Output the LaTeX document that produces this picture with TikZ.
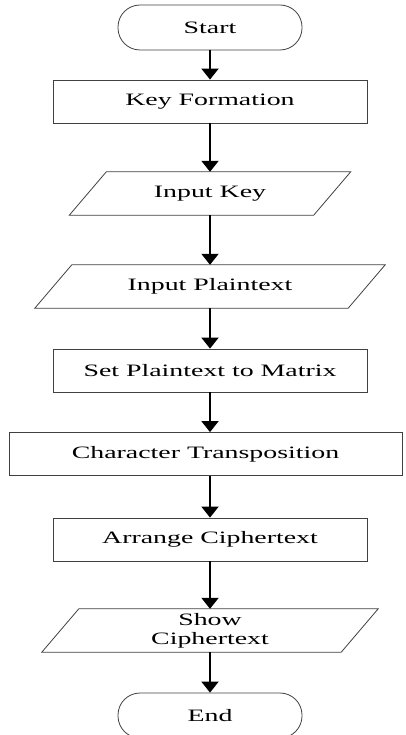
\documentclass[tikz,border=0pt]{standalone}
\usepackage{fontspec}
\setmainfont{Liberation Serif}
\newfontfamily\chartfont[FakeStretch=1.6]{Liberation Serif}
\usetikzlibrary{arrows.meta}
\colorlet{boxbrd}{black!75}

\begin{document}
\begin{tikzpicture}[
  x=1pt, y=-1pt,
  every node/.style={font=\chartfont\fontsize{17.4}{19}\selectfont, align=center},
  term/.style ={draw=boxbrd, line width=0.8pt, rounded corners=22pt,
                minimum width=184pt, minimum height=45pt, inner sep=0pt},
  proc/.style ={draw=boxbrd, line width=0.8pt,
                minimum width=314pt, minimum height=43pt, inner sep=0pt},
  io/.style   ={minimum height=43pt, inner sep=0pt,
                append after command={\pgfextra{
                  \draw[boxbrd, line width=0.8pt]
                    ([xshift=18.5pt]\tikzlastnode.north west) -- ([xshift=18.5pt]\tikzlastnode.north east)
                 -- ([xshift=-18.5pt]\tikzlastnode.south east) -- ([xshift=-18.5pt]\tikzlastnode.south west)
                 -- cycle;}}},
  flow/.style ={-{Triangle[width=17pt,length=11pt]}, line width=2pt},
]
\useasboundingbox (0,0) rectangle (406,735);

%% ── Flow chart column (x = 210) ─────────────────────────
\node[term] (start)   at (210, 27.5)  {Start};
\node[proc] (keyform) at (210, 101.5) {Key Formation};
\node[io, minimum width=244pt] (inkey)   at (210, 193.5) {Input Key};
\node[io, minimum width=313pt] (inplain) at (210, 286.5) {Input Plaintext};
\node[proc] (setmat)  at (210, 370.5) {Set Plaintext to Matrix};
\node[proc, minimum width=393pt] (transp) at (205.5, 454) {Character Transposition};
\node[proc] (arrange) at (210, 539.5) {Arrange Ciphertext};
\node[io, minimum width=299pt] (showcip) at (210, 630.5) {Show\\Ciphertext};
\node[term] (finish)  at (210, 715.5) {End};

%% ── Connectors ──────────────────────────────────────────
\draw[flow] (start)   -- (keyform);
\draw[flow] (keyform) -- (inkey);
\draw[flow] (inkey)   -- (inplain);
\draw[flow] (inplain) -- (setmat);
\draw[flow] (setmat.south)  -- (setmat.south |- transp.north);
\draw[flow] (arrange.north |- transp.south) -- (arrange.north);
\draw[flow] (arrange) -- (showcip);
\draw[flow] (showcip) -- (finish);

\end{tikzpicture}
\end{document}
